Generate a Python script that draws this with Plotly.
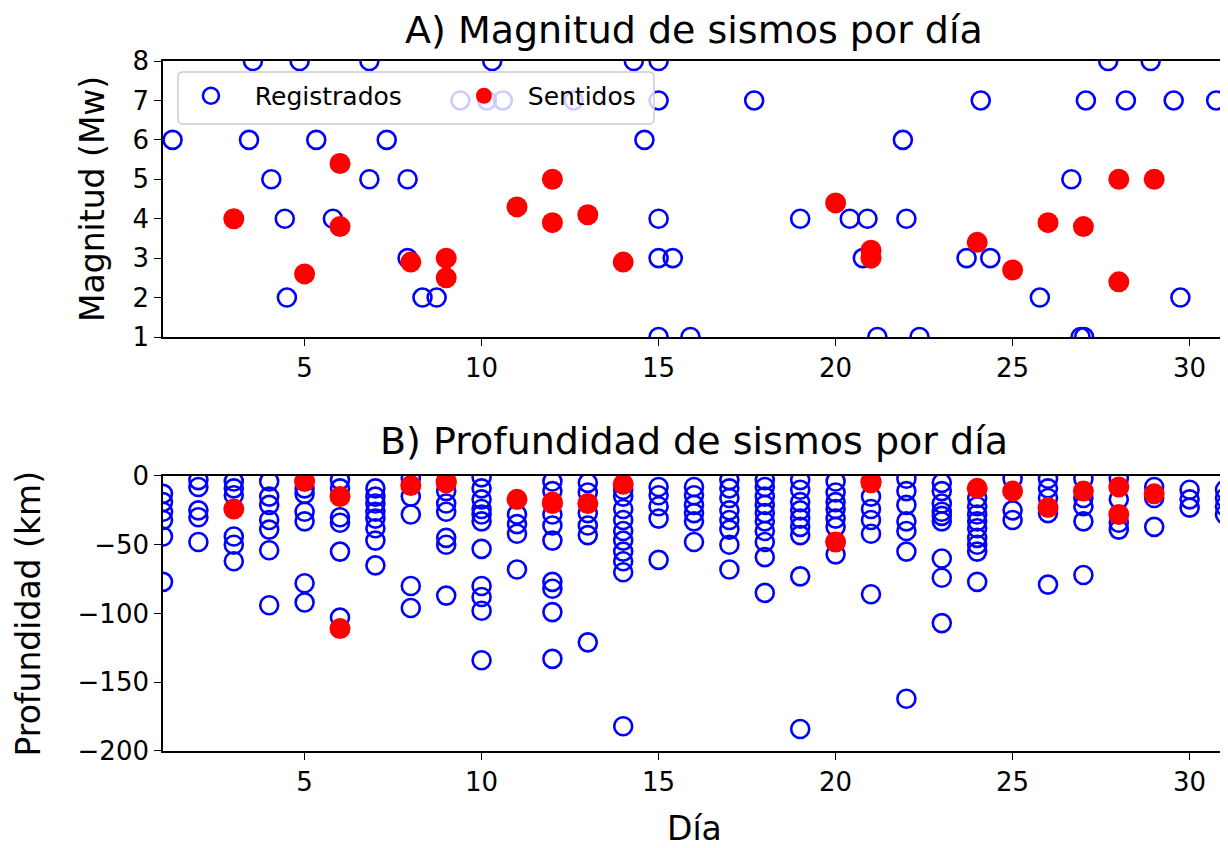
import plotly.graph_objects as go

# ---------------- data ----------------
# A) magnitude: registered (blue open) and felt (red filled)
mag_reg_day = [3.54, 4.86, 6.83, 10.3, 14.3, 15.0, 27.7, 28.9,
               9.4, 10.15, 10.6, 12.6, 15.0, 17.7, 24.1, 27.07, 28.2, 29.55, 30.75,
               1.27, 3.43, 5.33, 7.32, 14.6, 21.9,
               4.06, 6.83, 7.91, 26.66,
               4.44, 5.8, 15.0, 19.0, 20.4, 20.9, 22.0,
               7.91, 15.0, 15.4, 20.77, 23.7, 24.37,
               4.5, 8.33, 8.73, 25.77, 29.74,
               15.0, 15.9, 21.18, 22.37, 26.92, 27.02]
mag_reg_val = [8, 8, 8, 8, 8, 8, 8, 8,
               7, 7, 7, 7, 7, 7, 7, 7, 7, 7, 7,
               6, 6, 6, 6, 6, 6,
               5, 5, 5, 5,
               4, 4, 4, 4, 4, 4, 4,
               3, 3, 3, 3, 3, 3,
               2, 2, 2, 2, 2,
               1, 1, 1, 1, 1, 1]

mag_sent_day = [3, 5, 6, 6, 8, 9, 9, 11, 12, 12, 13, 14, 20, 21, 21, 24, 25, 26, 27, 28, 28, 29]
mag_sent_val = [4.0, 2.6, 5.4, 3.8, 2.9, 3.0, 2.5, 4.3, 5.0, 3.9, 4.1, 2.9, 4.4, 3.2, 3.0, 3.4, 2.7, 3.9, 3.8, 5.0, 2.4, 5.0]

# B) depth per day
prof_reg = {
    1: [-13, -19, -26, -32, -44, -77],
    2: [-3, -8, -25, -30, -48],
    3: [-4, -9, -14, -44, -50, -62],
    4: [-4, -15, -21, -32, -39, -54, -94],
    5: [-9, -13, -26, -33, -78, -92],
    6: [-3, -9, -30, -34, -55, -103],
    7: [-9, -15, -20, -26, -31, -38, -47, -65],
    8: [-2, -15, -28, -80, -96],
    9: [-11, -20, -26, -45, -50, -87],
    10: [-1, -9, -17, -24, -28, -33, -53, -80, -88, -98, -134],
    11: [-28, -35, -42, -68],
    12: [-4, -11, -28, -36, -47, -77, -82, -99, -133],
    13: [-5, -12, -27, -36, -43, -121],
    14: [-10, -15, -24, -32, -40, -47, -55, -62, -70, -182],
    15: [-8, -14, -22, -31, -61],
    16: [-8, -14, -21, -27, -33, -48],
    17: [-3, -9, -16, -25, -32, -39, -50, -68],
    18: [-3, -8, -15, -21, -27, -33, -40, -48, -59, -85],
    19: [-3, -10, -19, -25, -31, -37, -43, -73, -184],
    20: [-4, -12, -19, -24, -31, -37, -57],
    21: [-15, -24, -32, -42, -86],
    22: [-2, -11, -21, -33, -40, -55, -162],
    23: [-5, -11, -20, -26, -29, -33, -60, -74, -107],
    24: [-16, -22, -28, -33, -38, -45, -50, -55, -77],
    25: [-2, -25, -32],
    26: [-2, -9, -16, -27, -79],
    27: [-2, -16, -22, -33, -72],
    28: [-2, -17, -34, -39],
    29: [-8, -16, -37],
    30: [-10, -17, -23],
    31: [-10, -16, -22, -28],
}
prof_reg_day = [d for d, vals in prof_reg.items() for _ in vals]
prof_reg_val = [v for vals in prof_reg.values() for v in vals]

prof_sent_day = [3, 5, 6, 6, 8, 9, 9, 11, 12, 12, 13, 14, 20, 21, 21, 24, 25, 26, 27, 28, 28, 29]
prof_sent_val = [-24, -4, -15, -111, -7, -4, -5, -17, -19, -20, -20, -6, -48, -5, -4, -9, -11, -23, -11, -8, -28, -13]

x_ticks = [5, 10, 15, 20, 25, 30]
mag_ticks = [1, 2, 3, 4, 5, 6, 7, 8]
prof_ticks = [0, -50, -100, -150, -200]

# ---------------- figure ----------------
FONT = "DejaVu Sans"
BLUE = "#0000ff"
RED = "#ff0000"
NB = "\u00a0" * 3

fig = go.Figure()

open_marker = dict(symbol="circle-open", size=18, color=BLUE, line=dict(width=2.6, color=BLUE))
full_marker = dict(symbol="circle", size=21, color=RED, line=dict(width=0))

fig.add_trace(go.Scatter(x=mag_reg_day, y=mag_reg_val, mode="markers", marker=open_marker,
                         name=NB + "Registrados", xaxis="x", yaxis="y"))
fig.add_trace(go.Scatter(x=mag_sent_day, y=mag_sent_val, mode="markers", marker=full_marker,
                         name=NB + "Sentidos", xaxis="x", yaxis="y"))
fig.add_trace(go.Scatter(x=prof_reg_day, y=prof_reg_val, mode="markers", marker=open_marker,
                         showlegend=False, xaxis="x2", yaxis="y2"))
fig.add_trace(go.Scatter(x=prof_sent_day, y=prof_sent_val, mode="markers", marker=full_marker,
                         showlegend=False, xaxis="x2", yaxis="y2"))

axis_common = dict(showline=True, mirror=True, linecolor="black", linewidth=1.6,
                   ticks="outside", ticklen=7, tickwidth=1.4, tickcolor="black",
                   showgrid=False, zeroline=False,
                   tickfont=dict(family=FONT, size=26, color="black"))

# legend frame (rounded, semi-transparent) in paper coordinates
x0, x1, y0, y1 = 0.0141, 0.4624, 0.9087, 0.984
rx, ry = 0.0047, 0.0072
legend_path = (f"M {x0+rx},{y0} L {x1-rx},{y0} Q {x1},{y0} {x1},{y0+ry} "
               f"L {x1},{y1-ry} Q {x1},{y1} {x1-rx},{y1} L {x0+rx},{y1} "
               f"Q {x0},{y1} {x0},{y1-ry} L {x0},{y0+ry} Q {x0},{y0} {x0+rx},{y0} Z")

fig.update_layout(
    width=1220, height=840,
    margin=dict(l=155, r=1, t=53, b=97),
    paper_bgcolor="white", plot_bgcolor="white",
    font=dict(family=FONT, color="black"),
    xaxis=dict(domain=[0, 1], range=[1, 31], tickvals=x_ticks, anchor="y", **axis_common),
    yaxis=dict(domain=[0.6, 1], range=[1, 8], tickvals=mag_ticks, anchor="x", **axis_common),
    xaxis2=dict(domain=[0, 1], range=[1, 31], tickvals=x_ticks, anchor="y2", **axis_common),
    yaxis2=dict(domain=[0, 0.3986], range=[-200, 0], tickvals=prof_ticks, anchor="x2", **axis_common),
    legend=dict(orientation="h", x=0.0263, y=0.9493, xanchor="left", yanchor="middle",
                bgcolor="rgba(0,0,0,0)", borderwidth=0,
                font=dict(family=FONT, size=25, color="black"),
                entrywidth=228, entrywidthmode="pixels"),
    showlegend=True,
    shapes=[dict(type="path", path=legend_path, xref="paper", yref="paper", layer="above",
                 fillcolor="rgba(255,255,255,0.8)", line=dict(color="#cccccc", width=1.5))],
    annotations=[
        dict(text="A) Magnitud de sismos por día", x=0.5, y=1, xref="paper", yref="paper",
             xanchor="center", yanchor="middle", yshift=31, showarrow=False,
             font=dict(family=FONT, size=38, color="black")),
        dict(text="B) Profundidad de sismos por día", x=0.5, y=0.3986, xref="paper", yref="paper",
             xanchor="center", yanchor="middle", yshift=35, showarrow=False,
             font=dict(family=FONT, size=38, color="black")),
        dict(text="Magnitud (Mw)", x=0, y=0.8, xref="paper", yref="paper", textangle=-90,
             xanchor="center", yanchor="middle", xshift=-70, showarrow=False,
             font=dict(family=FONT, size=33, color="black")),
        dict(text="Profundidad (km)", x=0, y=0.1993, xref="paper", yref="paper", textangle=-90,
             xanchor="center", yanchor="middle", xshift=-135, showarrow=False,
             font=dict(family=FONT, size=33, color="black")),
        dict(text="Día", x=0.5, y=0, xref="paper", yref="paper",
             xanchor="center", yanchor="middle", yshift=-77, showarrow=False,
             font=dict(family=FONT, size=33, color="black")),
    ],
)

fig.write_html("out.html")
